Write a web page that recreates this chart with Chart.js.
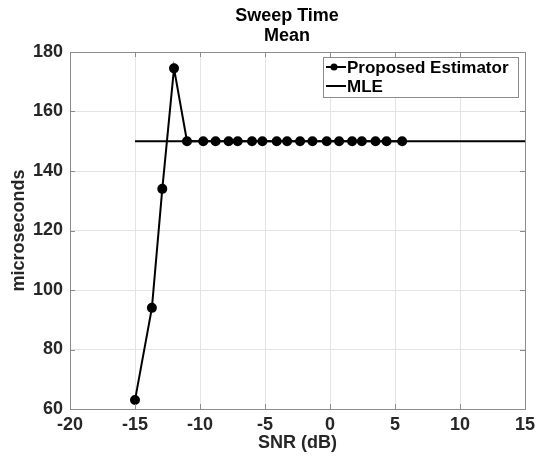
<!DOCTYPE html>
<html>
<head>
<meta charset="utf-8">
<script src="https://cdn.jsdelivr.net/npm/chart.js@4.4.0/dist/chart.umd.min.js"></script>
<style>
html, body { margin: 0; padding: 0; background: #fff; }
</style>
</head>
<body>
<canvas id="sweepChart" width="542" height="459"></canvas>
<script>
// values
var titleLines = ['Sweep Time', 'Mean'];
var snr = [-15, -13.7, -12.9, -12, -11, -9.75, -8.8, -7.8, -7.1, -6, -5.2, -4.1, -3.3, -2.3, -1.35, -0.25, 0.7, 1.7, 2.45, 3.5, 4.35, 5.55];
var proposed = [63, 94, 134, 174.5, 150, 150, 150, 150, 150, 150, 150, 150, 150, 150, 150, 150, 150, 150, 150, 150, 150, 150];
var mleSnr = [-15, 15];
var mle = [150, 150];
var xTicks = [-20, -15, -10, -5, 0, 5, 10, 15];
var yTicks = [60, 80, 100, 120, 140, 160, 180];

var FONT = "'Liberation Sans', Arial, Helvetica, sans-serif";
var AXIS = '#262626';

function pts(xs, ys) {
  return xs.map(function (x, i) { return { x: x, y: ys[i] }; });
}

// matlab style extras: box, inward ticks, title, legend
var matlabBits = {
  id: 'matlabBits',
  afterDraw: function (chart) {
    var ctx = chart.ctx;
    var a = chart.chartArea;
    var xs = chart.scales.x, ys = chart.scales.y;
    ctx.save();
    ctx.strokeStyle = '#8c8c8c';
    ctx.lineWidth = 1;
    ctx.strokeRect(Math.round(a.left) + 0.5, Math.round(a.top) + 0.5, Math.round(a.right - a.left), Math.round(a.bottom - a.top));
    ctx.beginPath();
    xTicks.forEach(function (v) {
      var px = Math.round(xs.getPixelForValue(v)) + 0.5;
      ctx.moveTo(px, a.bottom); ctx.lineTo(px, a.bottom - 5);
      ctx.moveTo(px, a.top); ctx.lineTo(px, a.top + 5);
    });
    yTicks.forEach(function (v) {
      var py = Math.round(ys.getPixelForValue(v)) + 0.5;
      ctx.moveTo(a.left, py); ctx.lineTo(a.left + 5, py);
      ctx.moveTo(a.right, py); ctx.lineTo(a.right - 5, py);
    });
    ctx.stroke();

    // title
    ctx.fillStyle = '#000';
    ctx.font = 'bold 18px ' + FONT;
    ctx.textAlign = 'center';
    ctx.textBaseline = 'middle';
    ctx.fillText(titleLines[0], 287, 16);
    ctx.fillText(titleLines[1], 287, 36);

    // legend
    var lx = 323, ly = 57, lw = 195, lh = 40;
    ctx.fillStyle = '#fff';
    ctx.fillRect(lx, ly, lw, lh);
    ctx.strokeStyle = '#8c8c8c';
    ctx.strokeRect(lx + 0.5, ly + 0.5, lw, lh);
    ctx.strokeStyle = '#000';
    ctx.lineWidth = 2;
    var rows = [ly + 10, ly + 29];
    chart.data.datasets.forEach(function (ds, i) {
      var y = rows[i];
      ctx.beginPath();
      ctx.moveTo(lx + 3, y); ctx.lineTo(lx + 23, y);
      ctx.stroke();
      if (ds.pointRadius > 0) {
        ctx.fillStyle = '#000';
        ctx.beginPath();
        ctx.arc(lx + 11, y, 3.5, 0, Math.PI * 2);
        ctx.fill();
      }
      ctx.fillStyle = '#000';
      ctx.font = 'bold 17px ' + FONT;
      ctx.textAlign = 'left';
      ctx.fillText(ds.label, lx + 24, y + 1);
    });
    ctx.restore();
  }
};

var chart = new Chart(document.getElementById('sweepChart'), {
  type: 'scatter',
  data: {
    datasets: [{
      label: 'Proposed Estimator',
      data: pts(snr, proposed),
      showLine: true,
      borderColor: '#000',
      backgroundColor: '#000',
      borderWidth: 2,
      pointRadius: 4,
      pointHoverRadius: 4
    }, {
      label: 'MLE',
      data: pts(mleSnr, mle),
      showLine: true,
      borderColor: '#000',
      backgroundColor: '#000',
      borderWidth: 2,
      pointRadius: 0
    }]
  },
  options: {
    responsive: false,
    animation: false,
    devicePixelRatio: 1,
    layout: { padding: { left: 0, right: 17, top: 52, bottom: 0 } },
    plugins: {
      legend: { display: false },
      tooltip: { enabled: false }
    },
    scales: {
      x: {
        type: 'linear',
        min: -20, max: 15,
        afterBuildTicks: function (s) { s.ticks = xTicks.map(function (v) { return { value: v }; }); },
        afterFit: function (s) { s.height = 50; },
        grid: { color: '#e4e4e4', drawTicks: false },
        border: { display: false },
        ticks: { color: AXIS, font: { family: FONT, size: 18, weight: 'bold' }, padding: 5, maxRotation: 0 },
        title: { display: true, text: 'SNR (dB)', color: AXIS, font: { family: FONT, size: 18, weight: 'bold' }, padding: { top: 0, bottom: 5 } }
      },
      y: {
        min: 60, max: 180,
        afterBuildTicks: function (s) { s.ticks = yTicks.map(function (v) { return { value: v }; }); },
        afterFit: function (s) { s.width = 70; },
        grid: { color: '#e4e4e4', drawTicks: false },
        border: { display: false },
        ticks: { color: AXIS, font: { family: FONT, size: 18, weight: 'bold' }, padding: 7 },
        title: { display: true, text: 'microseconds', color: AXIS, font: { family: FONT, size: 18, weight: 'bold' }, padding: { top: 8, bottom: 0 } }
      }
    }
  },
  plugins: [matlabBits]
});
</script>
</body>
</html>
